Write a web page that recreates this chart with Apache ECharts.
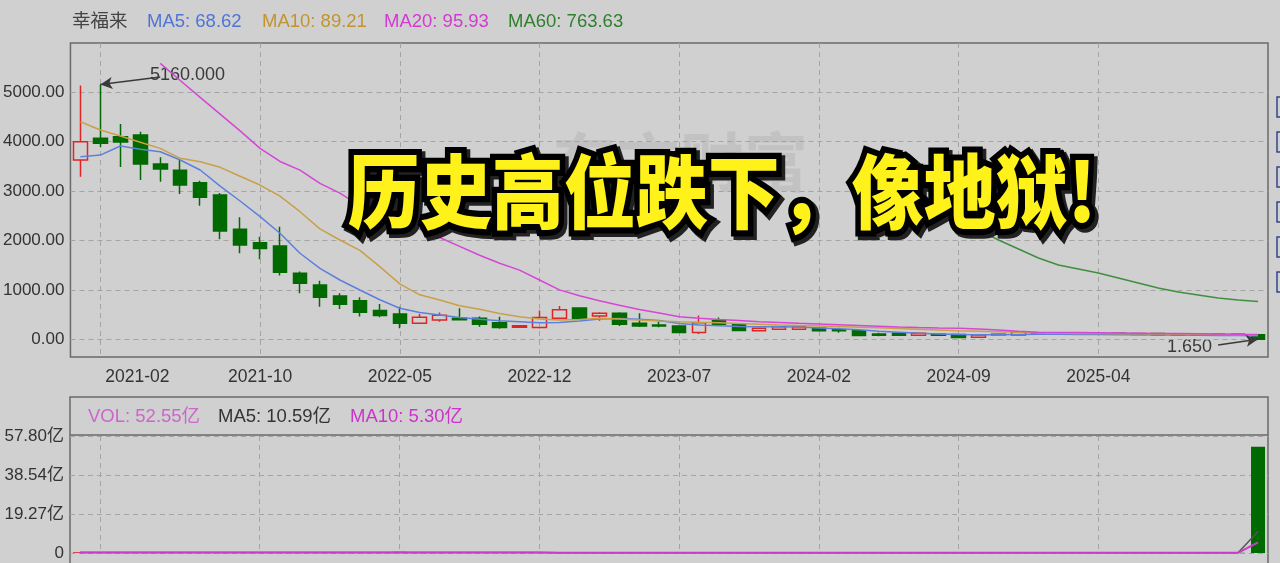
<!DOCTYPE html>
<html>
<head>
<meta charset="utf-8">
<script src="https://cdn.jsdelivr.net/npm/echarts@6/dist/echarts.min.js"></script>
<style>
    html, body { margin: 0; padding: 0; background: #d0d0d0; }
    #main { width: 1280px; height: 563px; }
</style>
</head>
<body>
<div id="main"></div>
<script>
const stockName = '幸福来';

const months = [
    '2021-01', '2021-02', '2021-03', '2021-04', '2021-05', '2021-06', '2021-07', '2021-08', '2021-09', '2021-10', '2021-11', '2021-12',
    '2022-01', '2022-02', '2022-03', '2022-04', '2022-05', '2022-06', '2022-07', '2022-08', '2022-09', '2022-10', '2022-11', '2022-12',
    '2023-01', '2023-02', '2023-03', '2023-04', '2023-05', '2023-06', '2023-07', '2023-08', '2023-09', '2023-10', '2023-11', '2023-12',
    '2024-01', '2024-02', '2024-03', '2024-04', '2024-05', '2024-06', '2024-07', '2024-08', '2024-09', '2024-10', '2024-11', '2024-12',
    '2025-01', '2025-02', '2025-03', '2025-04', '2025-05', '2025-06', '2025-07', '2025-08', '2025-09', '2025-10', '2025-11', '2025-12'
];
const labelMonths = ['2021-02', '2021-10', '2022-05', '2022-12', '2023-07', '2024-02', '2024-09', '2025-04'];

// [open, close, low, high]
const kline = [
    [3630, 4000, 3290, 5140], [4070, 3970, 3890, 5160], [4100, 3995, 3490, 4360], [4135, 3550, 3225, 4200],
    [3550, 3450, 3190, 3685], [3425, 3125, 2940, 3630], [3170, 2875, 2705, 3210], [2920, 2190, 2025, 2960],
    [2230, 1910, 1740, 2470], [1955, 1840, 1620, 2075], [1890, 1355, 1290, 2280], [1335, 1135, 930, 1370],
    [1100, 850, 660, 1185], [875, 710, 610, 930], [780, 545, 460, 850], [580, 480, 445, 715],
    [510, 325, 220, 660], [325, 445, 315, 510], [390, 485, 355, 540], [425, 395, 380, 625],
    [425, 305, 255, 460], [335, 235, 210, 455], [245, 275, 235, 290], [235, 440, 215, 580],
    [425, 595, 405, 675], [630, 425, 425, 635], [470, 525, 375, 545], [525, 305, 270, 545],
    [325, 270, 250, 525], [290, 270, 245, 355], [270, 135, 130, 280], [135, 335, 105, 480],
    [375, 305, 300, 440], [310, 175, 170, 320], [170, 220, 160, 230], [200, 255, 190, 265],
    [200, 255, 190, 280], [220, 170, 160, 230], [190, 170, 130, 230], [170, 75, 70, 175],
    [105, 80, 60, 130], [120, 80, 70, 125], [80, 120, 75, 130], [100, 80, 70, 110],
    [95, 35, 30, 100], [40, 85, 35, 95], [100, 92, 80, 110], [85, 140, 80, 150],
    [130, 110, 100, 140], [110, 125, 100, 135], [125, 105, 95, 130], [105, 120, 95, 128],
    [120, 100, 90, 125], [95, 115, 90, 122], [115, 90, 85, 120], [85, 110, 80, 115],
    [105, 85, 80, 112], [85, 105, 80, 110], [100, 85, 78, 106], [90, 1.65, 1.65, 95]
];

const ma5 = [
    3697, 3730, 3913, 3846, 3798, 3630, 3427, 3100, 2800, 2482, 2146, 1741,
    1437, 1200, 998, 800, 628, 540, 492, 440, 405, 375, 356, 335,
    340, 370, 410, 420, 405, 380, 320, 290, 275, 260, 255, 255,
    250, 225, 210, 190, 160, 140, 120, 105, 95, 90, 90, 95,
    100, 100, 98, 95, 92, 90, 88, 85, 82, 78, 74, 68.62
];
const ma10 = [
    4405, 4237, 4115, 3990, 3866, 3664, 3595, 3482, 3300, 3123, 2900, 2583,
    2236, 2010, 1800, 1470, 1120, 900, 796, 680, 607, 520, 457, 410,
    390, 400, 425, 410, 390, 370, 356, 345, 335, 320, 305, 290,
    280, 270, 260, 245, 230, 215, 200, 185, 170, 160, 150, 140,
    125, 120, 118, 115, 112, 110, 108, 105, 100, 97, 93, 89.21
];
const ma20 = [
    null, null, null, null, 5587, 5240, 4900, 4560, 4220, 3866, 3600, 3425,
    3158, 2960, 2700, 2530, 2380, 2230, 2060, 1880, 1700, 1538, 1400, 1200,
    1000, 880, 780, 690, 600, 530, 457, 425, 400, 380, 355, 340,
    324, 310, 295, 280, 265, 250, 238, 228, 220, 205, 185, 160,
    142, 138, 134, 130, 126, 122, 118, 114, 110, 105, 100, 95.93
];
const ma60 = [
    null, null, null, null, null, null, null, null, null, null, null, null,
    null, null, null, null, null, null, null, null, null, null, null, null,
    null, null, null, null, null, null, null, null, null, null, null, null,
    null, null, null, null, null, null, null, null, 2375, 2212, 2010, 1828,
    1646, 1504, 1423, 1342, 1241, 1140, 1038, 957, 897, 836, 796, 763.63
];

// 成交量 (亿)
const volume = [
    0.4, 0.2, 0.15, 0.1, 0.1, 0.1, 0.1, 0.1, 0.1, 0.1, 0.1, 0.1,
    0.1, 0.1, 0.1, 0.1, 0.6, 0.1, 0.1, 0.1, 0.1, 0.1, 0.1, 0.1,
    0.1, 0.1, 0.1, 0.1, 0.1, 0.1, 0.1, 0.1, 0.1, 0.1, 0.1, 0.1,
    0.1, 0.1, 0.1, 0.1, 0.1, 0.1, 0.1, 0.1, 0.1, 0.1, 0.1, 0.1,
    0.1, 0.1, 0.1, 0.1, 0.1, 0.1, 0.1, 0.1, 0.1, 0.1, 0.1, 52.55
];
const volMa5 = [
    0.2, 0.2, 0.2, 0.2, 0.2, 0.2, 0.2, 0.2, 0.2, 0.2, 0.2, 0.2,
    0.2, 0.2, 0.2, 0.2, 0.2, 0.2, 0.2, 0.2, 0.2, 0.2, 0.2, 0.2,
    0.1, 0.1, 0.1, 0.1, 0.1, 0.1, 0.1, 0.1, 0.1, 0.1, 0.1, 0.1,
    0.1, 0.1, 0.1, 0.1, 0.1, 0.1, 0.1, 0.1, 0.1, 0.1, 0.1, 0.1,
    0.1, 0.1, 0.1, 0.1, 0.1, 0.1, 0.1, 0.1, 0.1, 0.1, 0.1, 10.59
];
const volMa10 = [
    0.2, 0.2, 0.2, 0.2, 0.2, 0.2, 0.2, 0.2, 0.2, 0.2, 0.2, 0.2,
    0.2, 0.2, 0.2, 0.2, 0.2, 0.2, 0.2, 0.2, 0.2, 0.2, 0.2, 0.2,
    0.1, 0.1, 0.1, 0.1, 0.1, 0.1, 0.1, 0.1, 0.1, 0.1, 0.1, 0.1,
    0.1, 0.1, 0.1, 0.1, 0.1, 0.1, 0.1, 0.1, 0.1, 0.1, 0.1, 0.1,
    0.1, 0.1, 0.1, 0.1, 0.1, 0.1, 0.1, 0.1, 0.1, 0.1, 0.1, 5.30
];

const priceTicks = [0, 1000, 2000, 3000, 4000, 5000];
const volTicks = [0, 19.27, 38.54, 57.80];

const UP = '#e02424';
const DOWN = '#006a00';
const last = arr => arr[arr.length - 1];

const chart = echarts.init(document.getElementById('main'));

const showLabel = (index, value) => labelMonths.includes(value);
const dashed = { show: true, interval: showLabel, alignWithLabel: true, lineStyle: { color: '#a4a4a4', type: [5, 4], width: 1 } };
const cnFont = '"Noto Sans CJK SC", "Liberation Sans", sans-serif';
const numFont = '"Liberation Sans", Arial, "Noto Sans CJK SC", sans-serif';

const highIdx = kline.reduce((b, d, i) => d[3] > kline[b][3] ? i : b, 0);
const lowIdx = kline.reduce((b, d, i) => d[2] < kline[b][2] ? i : b, 0);

function legendText(x, y, text, color) {
    return {
        type: 'text', x, y,
        style: { text, fill: color, font: '18.5px ' + numFont, textVerticalAlign: 'middle' }
    };
}

const headline = '历史高位跌下，像地狱!';
function headlineLayer(dx, dy, z, fill, stroke, lineWidth) {
    return {
        type: 'text', x: 722 + dx, y: 191 + dy, z, scaleY: 1.12,
        style: { text: headline, fill, stroke, lineWidth, font: '900 72px "Noto Sans CJK SC"', textAlign: 'center', textVerticalAlign: 'middle' }
    };
}

const option = {
    backgroundColor: '#d0d0d0',
    animation: false,
    grid: [
        { left: 70, right: 12, top: 43, height: 314, show: true, borderColor: '#6a6a6a', borderWidth: 1.5, backgroundColor: 'transparent' },
        { left: 70, right: 12, top: 436, height: 117, show: false }
    ],
    xAxis: [
        {
            type: 'category', gridIndex: 0, data: months, boundaryGap: true,
            axisLine: { show: false }, axisTick: { show: false, interval: showLabel, alignWithLabel: true },
            axisLabel: {
                interval: showLabel, color: '#333', fontSize: 17.5, fontFamily: numFont, margin: 11,
                formatter: (v, i) => i === 1 ? '{first|' + v + '}' : v,
                rich: { first: { padding: [0, 0, 0, 74], color: '#333', fontSize: 17.5, fontFamily: numFont } }
            },
            splitLine: dashed
        },
        {
            type: 'category', gridIndex: 1, data: months, boundaryGap: true,
            axisLine: { show: false }, axisTick: { show: false, interval: showLabel, alignWithLabel: true }, axisLabel: { show: false, interval: showLabel },
            splitLine: dashed
        }
    ],
    yAxis: [
        {
            type: 'value', gridIndex: 0, min: -360, max: 6000,
            axisLine: { show: false }, axisTick: { show: false, customValues: priceTicks },
            axisLabel: { customValues: priceTicks, color: '#333', fontSize: 17, fontFamily: numFont, margin: 6, formatter: v => v.toFixed(2) },
            splitLine: { show: true, lineStyle: { color: '#a4a4a4', type: [5, 4] } }
        },
        {
            type: 'value', gridIndex: 1, min: 0, max: 57.8,
            axisLine: { show: false }, axisTick: { show: false, customValues: volTicks },
            axisLabel: { customValues: volTicks, color: '#333', fontSize: 17, fontFamily: numFont, margin: 6, formatter: v => v === 0 ? '0' : v.toFixed(2) + '亿' },
            splitLine: { show: true, lineStyle: { color: '#a4a4a4', type: [5, 4] } }
        }
    ],
    series: [
        {
            type: 'candlestick', name: 'K', xAxisIndex: 0, yAxisIndex: 0, data: kline, barWidth: 14,
            itemStyle: { color: 'transparent', color0: DOWN, borderColor: UP, borderColor0: DOWN, borderWidth: 1.5 },
            markLine: {
                silent: true, symbol: ['arrow', 'none'], symbolSize: [9, 12],
                lineStyle: { color: '#3a3a3a', type: 'solid', width: 1.5 },
                label: { show: false },
                data: [
                    [{ coord: [highIdx, kline[highIdx][3]] }, { coord: [highIdx + 2.5, kline[highIdx][3] + 150] }],
                    [{ coord: [lowIdx, kline[lowIdx][2]] }, { coord: [lowIdx - 2.1, kline[lowIdx][2] - 120] }]
                ]
            }
        },
        { type: 'line', name: 'MA5', data: ma5, showSymbol: false, lineStyle: { color: '#5c80dc', width: 1.5 } },
        { type: 'line', name: 'MA10', data: ma10, showSymbol: false, lineStyle: { color: '#c9a048', width: 1.5 } },
        { type: 'line', name: 'MA20', data: ma20, showSymbol: false, lineStyle: { color: '#d646d6', width: 1.5 } },
        { type: 'line', name: 'MA60', data: ma60, showSymbol: false, lineStyle: { color: '#3f8f3f', width: 1.5 } },
        {
            type: 'bar', name: 'VOL', xAxisIndex: 1, yAxisIndex: 1, barWidth: 14,
            data: volume.map((v, i) => ({ value: v, itemStyle: { color: kline[i][1] >= kline[i][0] ? UP : DOWN } }))
        },
        { type: 'line', name: 'VMA5', xAxisIndex: 1, yAxisIndex: 1, data: volMa5, showSymbol: false, lineStyle: { color: '#555', width: 1.5 } },
        { type: 'line', name: 'VMA10', xAxisIndex: 1, yAxisIndex: 1, data: volMa10, showSymbol: false, lineStyle: { color: '#c83ec8', width: 2 } }
    ],
    graphic: [
        // watermark
        { type: 'text', x: 680, y: 162, z: 0, silent: true, style: { text: '东方财富', fill: '#c2c2c2', font: 'bold 64px ' + cnFont, textAlign: 'center', textVerticalAlign: 'middle' } },
        // price legend
        legendText(72, 22, stockName, '#444'),
        legendText(147, 22, 'MA5: ' + last(ma5).toFixed(2), '#4f74d6'),
        legendText(262, 22, 'MA10: ' + last(ma10).toFixed(2), '#c29430'),
        legendText(384, 22, 'MA20: ' + last(ma20).toFixed(2), '#d23ad2'),
        legendText(508, 22, 'MA60: ' + last(ma60).toFixed(2), '#2f7f2f'),
        // volume panel frame
        { type: 'rect', shape: { x: 70, y: 397, width: 1198, height: 200 }, style: { fill: 'none', stroke: '#6a6a6a', lineWidth: 1.5 } },
        { type: 'line', shape: { x1: 70, y1: 435, x2: 1268, y2: 435 }, style: { stroke: '#6a6a6a', lineWidth: 1.5 } },
        legendText(88, 417, 'VOL: ' + last(volume).toFixed(2) + '亿', '#cc66cc'),
        legendText(218, 417, 'MA5: ' + last(volMa5).toFixed(2) + '亿', '#333'),
        legendText(350, 417, 'MA10: ' + last(volMa10).toFixed(2) + '亿', '#cc33cc'),
        // high / low labels
        { type: 'text', x: 150, y: 75, style: { text: kline[highIdx][3].toFixed(3), fill: '#3a3a3a', font: '18px ' + numFont, textVerticalAlign: 'middle' } },
        { type: 'text', x: 1212, y: 347, style: { text: kline[lowIdx][2].toFixed(3), fill: '#3a3a3a', font: '18px ' + numFont, textAlign: 'right', textVerticalAlign: 'middle' } },
        // side toolbar slivers
        ...[97, 132, 167, 202, 237, 272].map(y => ({ type: 'rect', shape: { x: 1277, y, width: 12, height: 20 }, style: { fill: 'none', stroke: '#35458a', lineWidth: 1.5 } })),
        // headline overlay
        headlineLayer(3, 3, 100, '#222', '#222', 12),
        headlineLayer(0, 0, 101, '#000', '#000', 11),
        headlineLayer(0, 0, 102, '#fff21a', null, 0)
    ]
};

chart.setOption(option);
</script>
</body>
</html>
